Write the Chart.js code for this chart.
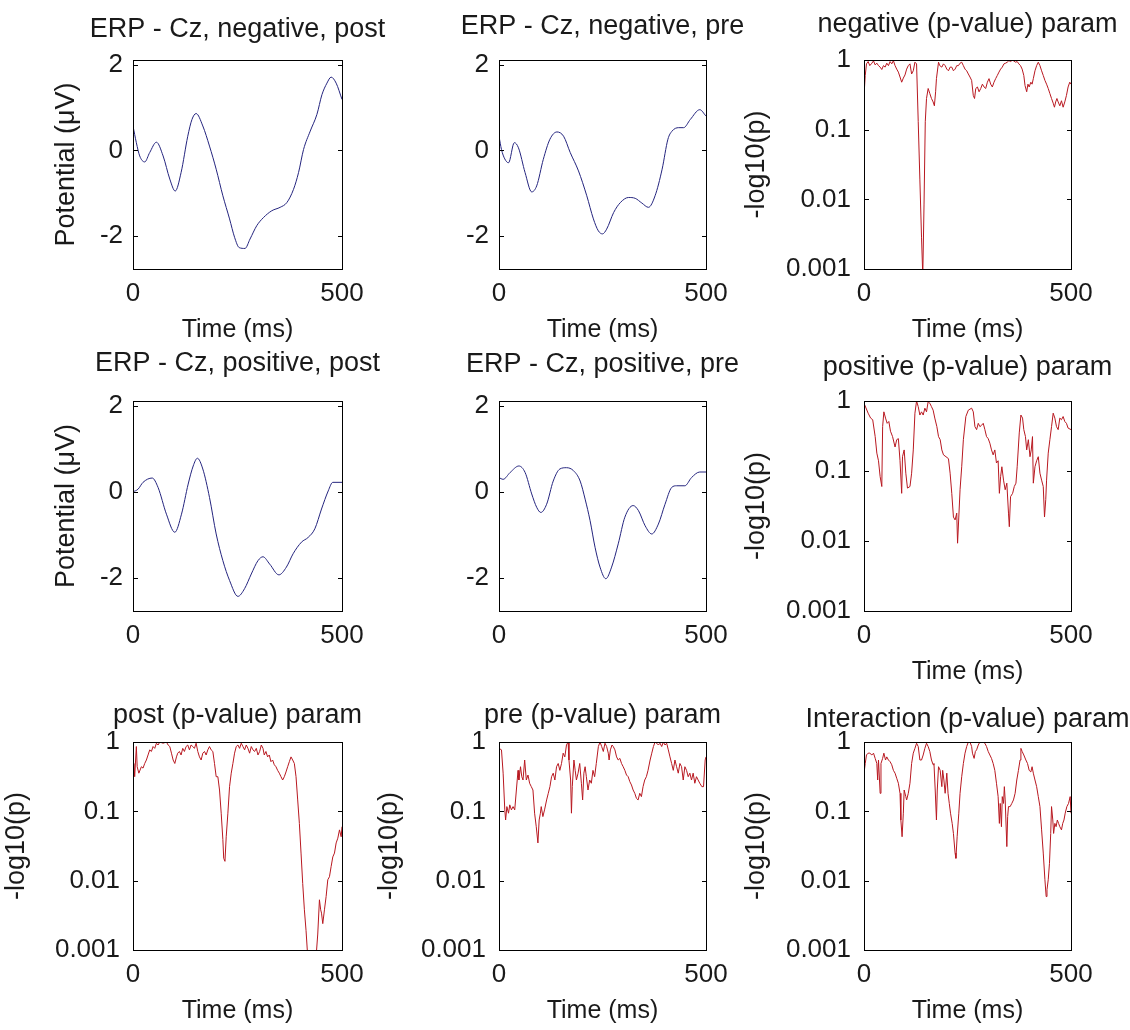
<!DOCTYPE html>
<html lang="en">
<head>
  <meta charset="UTF-8">
  <title>ERP - Cz</title>
  <script src="https://cdn.jsdelivr.net/npm/chart.js"></script>
  <style>
    html, body {
      margin: 0;
      padding: 0;
      background: #ffffff;
      overflow: hidden;
    }

    #figure {
      position: relative;
      width: 1130px;
      height: 1030px;
      overflow: hidden;
      background: #ffffff;
    }

    #figure canvas {
      position: absolute;
    }
  </style>
</head>
<body>
  <div id="figure"></div>

  <script>
    // ---- tick labels ----
    const timeTicks = [0, 500];
    const erpTicks = [-2, 0, 2];
    const pTicks = [0.001, 0.01, 0.1, 1];

    // ---- ERP waveforms (ms, µV) ----
    const negPostT = [0, 8, 16, 28, 40, 56, 72, 88, 101, 115, 131, 141, 151, 167, 183, 199, 215, 231, 243, 254, 268, 280, 296, 312, 332, 352, 368, 384, 396, 408, 424, 440, 452, 464, 474, 486, 500];
    const negPostV = [0.57, 0.18, -0.13, -0.27, -0.05, 0.19, -0.13, -0.67, -0.95, -0.52, 0.33, 0.72, 0.86, 0.57, 0.10, -0.44, -1.06, -1.60, -2.03, -2.27, -2.29, -2.07, -1.76, -1.57, -1.41, -1.33, -1.22, -0.91, -0.52, 0.02, 0.45, 0.84, 1.30, 1.57, 1.71, 1.57, 1.19];

    const negPreT = [0, 6, 14, 23, 37, 47, 63, 79, 91, 107, 123, 140, 156, 172, 192, 212, 228, 240, 250, 260, 277, 293, 313, 329, 345, 361, 377, 394, 408, 418, 434, 446, 462, 485, 500];
    const negPreV = [0.33, 0.02, -0.20, -0.29, 0.18, 0.06, -0.52, -0.97, -0.83, -0.21, 0.26, 0.43, 0.33, -0.05, -0.48, -1.06, -1.60, -1.88, -1.95, -1.84, -1.45, -1.22, -1.10, -1.12, -1.23, -1.33, -1.06, -0.44, 0.26, 0.45, 0.53, 0.53, 0.72, 0.95, 0.80];

    const posPostT = [0, 12, 24, 46, 60, 80, 100, 116, 132, 144, 154, 167, 183, 199, 215, 231, 251, 267, 283, 299, 311, 327, 349, 367, 383, 403, 419, 435, 451, 467, 478, 500];
    const posPostV = [0, 0.06, 0.22, 0.32, 0.10, -0.52, -0.94, -0.52, 0.18, 0.60, 0.78, 0.53, -0.13, -0.98, -1.60, -2.06, -2.43, -2.25, -1.91, -1.60, -1.51, -1.68, -1.93, -1.75, -1.44, -1.17, -1.06, -0.86, -0.40, 0.02, 0.22, 0.22];

    const posPreT = [0, 10, 27, 48, 63, 79, 91, 101, 115, 131, 147, 163, 180, 196, 208, 220, 232, 244, 258, 272, 288, 304, 324, 337, 353, 369, 385, 401, 417, 429, 449, 465, 485, 500];
    const posPreV = [0.33, 0.29, 0.45, 0.60, 0.45, -0.05, -0.36, -0.48, -0.29, 0.25, 0.53, 0.56, 0.49, 0.25, -0.17, -0.67, -1.29, -1.75, -2.02, -1.75, -1.21, -0.59, -0.32, -0.44, -0.79, -0.98, -0.75, -0.29, 0.10, 0.14, 0.14, 0.33, 0.46, 0.46];

    // ---- p-value traces (ms, p) ----
    const negPT = [0, 3, 6, 10, 14, 19, 23, 27, 31, 35, 39, 43, 47, 51, 55, 59, 63, 67, 71, 75, 79, 83, 87, 91, 95, 99, 103, 107, 111, 115, 119, 123, 127, 131, 135, 139, 142, 145, 148, 151, 155, 159, 163, 167, 170, 173, 175, 180, 183, 188, 192, 196, 200, 204, 208, 212, 216, 220, 224, 228, 232, 236, 240, 244, 248, 252, 256, 260, 264, 267, 270, 274, 278, 282, 286, 290, 294, 298, 302, 306, 310, 314, 318, 322, 326, 330, 334, 338, 342, 346, 350, 354, 358, 362, 366, 370, 374, 378, 382, 386, 389, 393, 396, 399, 403, 406, 409, 413, 417, 421, 425, 429, 433, 437, 441, 445, 449, 453, 457, 460, 463, 466, 469, 473, 477, 481, 485, 489, 493, 497, 500];
    const negPV = [0.31, 0.60, 0.88, 0.95, 0.83, 0.90, 0.97, 0.85, 0.90, 0.83, 0.79, 0.73, 0.83, 0.79, 0.90, 0.83, 0.95, 0.88, 0.98, 0.83, 0.74, 0.67, 0.57, 0.48, 0.55, 0.61, 0.74, 0.83, 0.88, 0.63, 0.70, 0.93, 0.88, 0.13, 0.019, 0.0028, 0.0008, 0.0083, 0.13, 0.28, 0.39, 0.33, 0.28, 0.25, 0.22, 0.35, 0.54, 0.93, 0.83, 0.79, 0.88, 0.83, 0.74, 0.70, 0.79, 0.79, 0.70, 0.74, 0.83, 0.83, 0.90, 0.93, 0.83, 0.74, 0.70, 0.63, 0.57, 0.51, 0.31, 0.28, 0.39, 0.41, 0.35, 0.39, 0.45, 0.41, 0.39, 0.48, 0.54, 0.45, 0.41, 0.48, 0.54, 0.60, 0.67, 0.74, 0.79, 0.88, 0.90, 0.93, 0.98, 0.95, 0.99, 0.97, 0.93, 0.95, 0.88, 0.83, 0.74, 0.60, 0.43, 0.35, 0.45, 0.41, 0.48, 0.45, 0.54, 0.70, 0.83, 0.93, 0.83, 0.70, 0.60, 0.51, 0.45, 0.39, 0.33, 0.28, 0.24, 0.21, 0.25, 0.28, 0.25, 0.22, 0.26, 0.21, 0.25, 0.31, 0.41, 0.48, 0.45];

    const posPT = [0, 10, 16, 21, 27, 31, 35, 39, 43, 45, 48, 52, 56, 60, 64, 69, 75, 79, 83, 87, 91, 93, 97, 101, 105, 111, 115, 119, 123, 127, 131, 135, 139, 143, 147, 151, 155, 159, 163, 167, 171, 176, 180, 184, 188, 192, 198, 204, 208, 212, 216, 220, 224, 226, 229, 232, 236, 240, 246, 252, 260, 264, 268, 272, 276, 280, 284, 288, 292, 296, 300, 304, 308, 312, 316, 320, 324, 327, 330, 333, 337, 341, 345, 349, 351, 354, 359, 363, 367, 370, 375, 379, 383, 386, 390, 393, 397, 401, 404, 407, 409, 413, 417, 421, 425, 429, 433, 436, 439, 441, 445, 449, 453, 457, 461, 465, 469, 473, 477, 481, 485, 489, 493, 500];
    const posPV = [0.93, 0.67, 0.57, 0.54, 0.31, 0.18, 0.14, 0.083, 0.06, 0.43, 0.70, 0.57, 0.48, 0.51, 0.37, 0.31, 0.22, 0.28, 0.29, 0.14, 0.048, 0.16, 0.20, 0.093, 0.057, 0.06, 0.093, 0.20, 0.67, 1.0, 0.83, 0.63, 0.70, 0.63, 0.79, 0.70, 0.98, 0.93, 0.83, 0.74, 0.57, 0.43, 0.31, 0.28, 0.20, 0.17, 0.16, 0.15, 0.093, 0.048, 0.022, 0.02, 0.025, 0.0093, 0.022, 0.054, 0.115, 0.28, 0.60, 0.74, 0.79, 0.70, 0.43, 0.39, 0.48, 0.43, 0.45, 0.48, 0.39, 0.31, 0.29, 0.25, 0.20, 0.17, 0.20, 0.13, 0.14, 0.048, 0.083, 0.115, 0.074, 0.054, 0.067, 0.025, 0.016, 0.043, 0.048, 0.06, 0.067, 0.115, 0.35, 0.63, 0.57, 0.39, 0.31, 0.20, 0.28, 0.16, 0.20, 0.31, 0.067, 0.115, 0.14, 0.16, 0.093, 0.074, 0.06, 0.022, 0.039, 0.074, 0.18, 0.28, 0.43, 0.67, 0.57, 0.43, 0.39, 0.57, 0.54, 0.60, 0.51, 0.48, 0.41, 0.39];

    const postPT = [0, 2, 4, 8, 10, 14, 20, 24, 28, 32, 36, 40, 44, 48, 52, 56, 60, 64, 72, 80, 84, 88, 92, 96, 100, 104, 107, 111, 115, 119, 123, 127, 131, 135, 139, 143, 147, 151, 155, 159, 163, 167, 171, 175, 179, 183, 187, 191, 195, 199, 203, 207, 211, 215, 217, 220, 223, 227, 231, 235, 239, 243, 247, 251, 255, 259, 263, 267, 271, 275, 279, 283, 287, 291, 295, 299, 303, 307, 311, 314, 318, 322, 326, 330, 334, 338, 342, 346, 350, 354, 358, 362, 366, 370, 374, 378, 382, 386, 390, 394, 398, 402, 406, 410, 414, 418, 426, 438, 442, 446, 449, 451, 454, 458, 462, 466, 470, 474, 478, 482, 486, 490, 494, 498, 500];
    const postPV = [0.355, 0.49, 0.316, 0.86, 0.44, 0.355, 0.44, 0.42, 0.49, 0.55, 0.65, 0.77, 0.73, 0.86, 0.81, 0.96, 0.905, 1.0, 0.96, 1.0, 0.905, 0.86, 0.69, 0.55, 0.49, 0.61, 0.69, 0.73, 0.65, 0.81, 0.73, 0.86, 0.905, 0.77, 0.905, 0.86, 0.81, 0.96, 0.73, 0.61, 0.55, 0.69, 0.73, 0.65, 0.77, 0.86, 0.77, 0.73, 0.49, 0.316, 0.316, 0.203, 0.094, 0.039, 0.021, 0.019, 0.043, 0.094, 0.227, 0.355, 0.49, 0.69, 0.86, 0.905, 0.81, 0.96, 0.86, 0.77, 0.905, 0.81, 0.69, 0.86, 0.77, 0.73, 0.81, 0.65, 0.73, 0.905, 0.81, 0.65, 0.73, 0.61, 0.65, 0.52, 0.55, 0.47, 0.44, 0.39, 0.355, 0.316, 0.283, 0.316, 0.37, 0.44, 0.52, 0.61, 0.55, 0.49, 0.316, 0.146, 0.067, 0.025, 0.0091, 0.0038, 0.0019, 0.0008, 0.0004, 0.0008, 0.0017, 0.0053, 0.0038, 0.0034, 0.0024, 0.0038, 0.0059, 0.0103, 0.0114, 0.016, 0.022, 0.025, 0.035, 0.041, 0.054, 0.043, 0.06];

    const prePT = [0, 6, 10, 14, 16, 19, 23, 26, 30, 34, 38, 42, 46, 48, 52, 55, 58, 62, 66, 70, 74, 78, 82, 86, 90, 94, 97, 100, 102, 106, 110, 115, 119, 123, 127, 131, 135, 139, 143, 147, 151, 155, 159, 163, 167, 169, 173, 175, 177, 181, 184, 187, 191, 195, 199, 202, 205, 208, 211, 215, 219, 223, 227, 231, 235, 240, 244, 248, 252, 256, 260, 264, 266, 269, 273, 276, 280, 284, 288, 292, 296, 300, 304, 308, 312, 316, 320, 324, 328, 332, 336, 340, 344, 348, 352, 356, 360, 365, 369, 373, 377, 381, 385, 389, 393, 397, 401, 405, 409, 413, 417, 421, 425, 429, 433, 437, 441, 445, 449, 453, 457, 461, 465, 469, 473, 477, 481, 485, 490, 494, 498, 500];
    const prePV = [0.81, 0.77, 0.355, 0.105, 0.075, 0.117, 0.094, 0.124, 0.105, 0.117, 0.105, 0.203, 0.39, 0.283, 0.44, 0.316, 0.283, 0.55, 0.283, 0.334, 0.254, 0.227, 0.203, 0.094, 0.06, 0.035, 0.075, 0.094, 0.117, 0.084, 0.105, 0.146, 0.182, 0.227, 0.316, 0.355, 0.283, 0.44, 0.49, 0.39, 0.49, 0.69, 0.61, 0.905, 1.0, 0.55, 0.283, 0.094, 0.227, 0.55, 0.39, 0.283, 0.355, 0.49, 0.254, 0.146, 0.355, 0.44, 0.316, 0.203, 0.283, 0.254, 0.39, 0.316, 0.49, 0.86, 1.0, 0.86, 0.73, 0.96, 0.86, 0.69, 0.55, 0.77, 0.905, 0.86, 0.77, 0.61, 0.55, 0.58, 0.49, 0.44, 0.39, 0.334, 0.316, 0.268, 0.24, 0.203, 0.182, 0.154, 0.146, 0.182, 0.163, 0.227, 0.283, 0.316, 0.39, 0.55, 0.69, 0.86, 1.0, 0.96, 0.905, 0.96, 0.86, 1.0, 0.905, 0.96, 0.77, 0.61, 0.49, 0.39, 0.55, 0.44, 0.355, 0.49, 0.44, 0.283, 0.44, 0.39, 0.316, 0.355, 0.283, 0.355, 0.254, 0.316, 0.283, 0.254, 0.227, 0.227, 0.55, 0.61];

    const interPT = [0, 3, 6, 10, 14, 19, 23, 27, 31, 33, 35, 39, 41, 45, 48, 52, 55, 59, 63, 67, 71, 75, 79, 83, 87, 89, 92, 95, 97, 101, 103, 107, 111, 115, 119, 123, 127, 131, 135, 139, 143, 147, 151, 155, 159, 163, 167, 169, 172, 175, 177, 180, 184, 188, 190, 193, 196, 200, 203, 206, 209, 213, 216, 220, 222, 225, 229, 232, 236, 240, 244, 248, 252, 256, 260, 262, 266, 269, 272, 276, 280, 284, 288, 292, 296, 300, 304, 308, 312, 316, 320, 324, 327, 329, 332, 334, 337, 339, 341, 345, 347, 349, 353, 357, 361, 365, 369, 373, 377, 379, 382, 386, 391, 395, 399, 403, 406, 409, 413, 417, 421, 425, 429, 433, 437, 440, 442, 445, 448, 451, 453, 456, 458, 461, 464, 467, 470, 473, 477, 480, 483, 486, 490, 494, 498, 500];
    const interPV = [0.355, 0.49, 0.65, 0.69, 0.69, 0.65, 0.69, 0.58, 0.49, 0.283, 0.55, 0.182, 0.49, 0.58, 0.69, 0.55, 0.61, 0.55, 0.52, 0.47, 0.39, 0.355, 0.30, 0.254, 0.182, 0.075, 0.043, 0.094, 0.203, 0.163, 0.146, 0.182, 0.254, 0.49, 0.69, 0.81, 0.96, 0.86, 0.55, 0.55, 0.65, 0.81, 0.96, 0.86, 0.73, 0.55, 0.47, 0.49, 0.203, 0.075, 0.203, 0.44, 0.39, 0.227, 0.39, 0.283, 0.182, 0.355, 0.182, 0.13, 0.094, 0.067, 0.048, 0.025, 0.021, 0.043, 0.094, 0.182, 0.316, 0.49, 0.69, 0.86, 1.0, 1.0, 0.86, 0.69, 0.58, 0.73, 0.77, 0.905, 1.0, 1.0, 1.0, 0.96, 0.86, 0.73, 0.65, 0.58, 0.49, 0.39, 0.254, 0.163, 0.067, 0.13, 0.06, 0.163, 0.13, 0.227, 0.146, 0.031, 0.084, 0.117, 0.117, 0.13, 0.146, 0.182, 0.283, 0.39, 0.55, 0.81, 0.73, 0.65, 0.55, 0.49, 0.39, 0.37, 0.44, 0.355, 0.283, 0.227, 0.163, 0.117, 0.054, 0.025, 0.0103, 0.0059, 0.0074, 0.0103, 0.0178, 0.048, 0.117, 0.075, 0.048, 0.067, 0.06, 0.075, 0.067, 0.06, 0.054, 0.067, 0.075, 0.094, 0.117, 0.13, 0.163, 0.094];

    // ---- layout ----
    const FONT = 'Arial, "Liberation Sans", Helvetica, sans-serif';
    const INK = '#1a1a1a';
    const BLUE = '#24247e';
    const RED = '#b81820';
    const SIDE = 140;   // room left/right of each axes box (symmetric so the title centres on the box)
    const TOP = 60;     // room above the box for the title
    const BOTTOM = 80;  // room below for ticks and x label

    const colLeft = [133, 499, 864];
    const colWidth = [209, 207, 207];
    const rowTop = [60, 401, 742];
    const rowHeight = [209, 210, 208];

    const panels = [
      { col: 0, row: 0, t: negPostT, v: negPostV, title: 'ERP - Cz, negative, post', yLabel: 'Potential (\u03bcV)', xLabel: true, log: false, titleOff: 30, yLabelOff: 66 },
      { col: 1, row: 0, t: negPreT, v: negPreV, title: 'ERP - Cz, negative, pre', yLabel: '', xLabel: true, log: false, titleOff: 33 },
      { col: 2, row: 0, t: negPT, v: negPV, title: 'negative (p-value) param', yLabel: '-log10(p)', xLabel: true, log: true, titleOff: 35, yLabelOff: 107 },
      { col: 0, row: 1, t: posPostT, v: posPostV, title: 'ERP - Cz, positive, post', yLabel: 'Potential (\u03bcV)', xLabel: false, log: false, titleOff: 37, yLabelOff: 66 },
      { col: 1, row: 1, t: posPreT, v: posPreV, title: 'ERP - Cz, positive, pre', yLabel: '', xLabel: false, log: false, titleOff: 36 },
      { col: 2, row: 1, t: posPT, v: posPV, title: 'positive (p-value) param', yLabel: '-log10(p)', xLabel: true, log: true, titleOff: 33, yLabelOff: 107 },
      { col: 0, row: 2, t: postPT, v: postPV, title: 'post (p-value) param', yLabel: '-log10(p)', xLabel: true, log: true, titleOff: 26, yLabelOff: 116 },
      { col: 1, row: 2, t: prePT, v: prePV, title: 'pre (p-value) param', yLabel: '-log10(p)', xLabel: true, log: true, titleOff: 26, yLabelOff: 109 },
      { col: 2, row: 2, t: interPT, v: interPV, title: 'Interaction (p-value) param', yLabel: '-log10(p)', xLabel: true, log: true, titleOff: 22, yLabelOff: 107 }
    ];

    // closed axes box with short inward ticks on all four sides
    const axesBox = {
      id: 'axesBox',
      afterDraw(chart) {
        const { ctx, chartArea: a, scales: { x, y } } = chart;
        ctx.save();
        ctx.strokeStyle = '#000000';
        ctx.lineWidth = 1;
        ctx.strokeRect(a.left + 0.5, a.top + 0.5, a.right - a.left, a.bottom - a.top);
        ctx.beginPath();
        y.ticks.forEach(tk => {
          const py = Math.round(y.getPixelForValue(tk.value)) + 0.5;
          ctx.moveTo(a.left, py); ctx.lineTo(a.left + 5, py);
          ctx.moveTo(a.right - 4, py); ctx.lineTo(a.right + 1, py);
        });
        x.ticks.forEach(tk => {
          const px = Math.round(x.getPixelForValue(tk.value)) + 0.5;
          ctx.moveTo(px, a.bottom); ctx.lineTo(px, a.bottom - 5);
          ctx.moveTo(px, a.top); ctx.lineTo(px, a.top + 5);
        });
        ctx.stroke();
        ctx.restore();
      }
    };

    const fig = document.getElementById('figure');

    panels.forEach(p => {
      const bw = colWidth[p.col], bh = rowHeight[p.row];
      const w = SIDE * 2 + bw, h = TOP + bh + BOTTOM;
      const canvas = document.createElement('canvas');
      canvas.width = w;
      canvas.height = h;
      canvas.style.left = (colLeft[p.col] - SIDE) + 'px';
      canvas.style.top = (rowTop[p.row] - TOP) + 'px';
      canvas.style.width = w + 'px';
      canvas.style.height = h + 'px';
      fig.appendChild(canvas);

      const points = p.t.map((t, i) => ({ x: t, y: p.v[i] }));
      const titleSize = 27;
      const titlePadTop = TOP - p.titleOff - titleSize * 0.6;
      const titlePadBottom = TOP - titleSize * 1.2 - titlePadTop;
      const yTitleSize = 27;

      new Chart(canvas, {
        type: 'line',
        data: {
          datasets: [{
            data: points,
            borderColor: p.log ? RED : BLUE,
            borderWidth: 1,
            pointRadius: 0,
            fill: false,
            tension: p.log ? 0 : 0.4,
            cubicInterpolationMode: p.log ? 'default' : 'monotone'
          }]
        },
        options: {
          responsive: false,
          animation: false,
          events: [],
          layout: { padding: 0 },
          plugins: {
            legend: { display: false },
            tooltip: { enabled: false },
            title: {
              display: true,
              text: p.title,
              color: INK,
              font: { family: FONT, size: titleSize, weight: 'normal' },
              padding: { top: titlePadTop, bottom: titlePadBottom }
            }
          },
          scales: {
            x: {
              type: 'linear',
              min: 0,
              max: 500,
              grid: { display: false, drawTicks: false },
              border: { display: false },
              afterBuildTicks: s => { s.ticks = timeTicks.map(v => ({ value: v })); },
              afterFit: s => { s.height = BOTTOM; },
              ticks: {
                autoSkip: false,
                maxRotation: 0,
                padding: 9,
                color: INK,
                font: { family: FONT, size: 26 },
                callback: v => String(v)
              },
              title: {
                display: p.xLabel,
                text: 'Time (ms)',
                color: INK,
                font: { family: FONT, size: 25 },
                padding: { top: 0, bottom: 4 }
              }
            },
            y: {
              type: p.log ? 'logarithmic' : 'linear',
              position: 'left',
              min: p.log ? 0.001 : -2.77,
              max: p.log ? 1 : 2.11,
              grid: { display: false, drawTicks: false },
              border: { display: false },
              afterBuildTicks: s => { s.ticks = (p.log ? pTicks : erpTicks).map(v => ({ value: v })); },
              afterFit: s => { s.width = SIDE; },
              ticks: {
                autoSkip: false,
                padding: p.log ? 13 : 10,
                color: INK,
                font: { family: FONT, size: 26 },
                callback: v => String(v)
              },
              title: {
                display: !!p.yLabel,
                text: p.yLabel,
                color: INK,
                font: { family: FONT, size: yTitleSize },
                padding: { top: SIDE - (p.yLabelOff || 0) - yTitleSize * 0.6, bottom: 0 }
              }
            },
            // empty right-hand axis, only reserves the same width as the left one
            spacer: {
              type: 'linear',
              position: 'right',
              min: 0,
              max: 1,
              grid: { display: false, drawTicks: false },
              border: { display: false },
              ticks: { display: false },
              afterFit: s => { s.width = SIDE; }
            }
          }
        },
        plugins: [axesBox]
      });
    });
  </script>
</body>
</html>
